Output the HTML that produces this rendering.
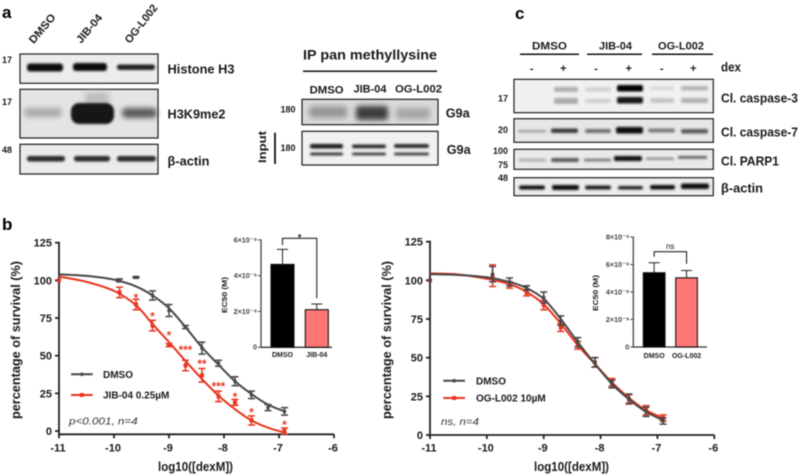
<!DOCTYPE html>
<html lang="en">
<head>
<meta charset="utf-8">
<title>Western blots and dose-response curves</title>
<style>
html,body{margin:0;padding:0;background:#fff;width:800px;height:476px;overflow:hidden}
svg{display:block;position:absolute;left:0;top:0;filter:blur(.45px)}
text{font-family:"Liberation Sans","DejaVu Sans",sans-serif;font-weight:bold;fill:#1a1a1a}
.box{stroke:#1c1c1c;stroke-width:1.2}
.lbl{font-size:13px}
.mw{font-size:9px}
.pl{font-size:17px;fill:#000}
.hd{font-size:11px}
.axis{stroke:#222;stroke-width:1.8;fill:none}
</style>
</head>
<body>
<svg id="figure" width="800" height="476" viewBox="0 0 800 476" xmlns="http://www.w3.org/2000/svg">
<defs>
<filter id="b1" x="-20%" y="-60%" width="140%" height="220%"><feGaussianBlur stdDeviation="1"/></filter>
<filter id="b2" x="-20%" y="-60%" width="140%" height="220%"><feGaussianBlur stdDeviation="2.6"/></filter>
</defs>

<!-- Panel a -->
<g>
<text class="pl" x="2" y="18">a</text>
<text class="hd" transform="translate(45,31) rotate(-50)" text-anchor="middle" textLength="35" lengthAdjust="spacingAndGlyphs">DMSO</text>
<text class="hd" transform="translate(92,31) rotate(-50)" text-anchor="middle" textLength="34" lengthAdjust="spacingAndGlyphs">JIB-04</text>
<text class="hd" transform="translate(144,26) rotate(-52)" text-anchor="middle" textLength="46" lengthAdjust="spacingAndGlyphs">OG-L002</text>

<text class="mw" x="2" y="63">17</text>
<text class="mw" x="2" y="105">17</text>
<text class="mw" x="2" y="153">48</text>

<g>
<rect class="box" x="20" y="54" width="138" height="29.3" fill="#ececec"/>
<g filter="url(#b1)">
<rect x="27" y="63.5" width="36" height="8" rx="3" fill="#0a0a0a"/>
<rect x="73" y="63" width="34" height="8" rx="3" fill="#0a0a0a"/>
<rect x="117" y="64.5" width="38" height="5.5" rx="2.5" fill="#222"/>
</g>
</g>
<g>
<rect class="box" x="20" y="89.3" width="138" height="48.7" fill="#e4e4e4"/>
<g filter="url(#b2)">
<rect x="24" y="108" width="38" height="9" rx="4" fill="#a9a9a9"/>
<rect x="85" y="92" width="24" height="12" fill="#bdbdbd"/>
<rect x="122" y="108" width="35" height="10" rx="4" fill="#5a5a5a"/>
</g>
<rect x="71" y="103" width="43" height="21" rx="8" fill="#141414" filter="url(#b1)"/>
</g>
<g>
<rect class="box" x="20" y="144.3" width="138" height="29.7" fill="#ebebeb"/>
<g filter="url(#b1)">
<rect x="27" y="156" width="38" height="5.5" rx="2.5" fill="#2a2a2a"/>
<rect x="74" y="156" width="36" height="5.5" rx="2.5" fill="#2a2a2a"/>
<rect x="117" y="156" width="39" height="5.5" rx="2.5" fill="#2a2a2a"/>
</g>
</g>
<text class="lbl" x="167.5" y="73.3" textLength="67" lengthAdjust="spacingAndGlyphs">Histone H3</text>
<text class="lbl" x="167.5" y="118.7" textLength="58" lengthAdjust="spacingAndGlyphs">H3K9me2</text>
<text class="lbl" x="167.5" y="165.7" textLength="42" lengthAdjust="spacingAndGlyphs">β-actin</text>
</g>

<!-- IP panel -->
<g>
<text x="303" y="59.3" font-size="14" textLength="134" lengthAdjust="spacingAndGlyphs">IP pan methyllysine</text>
<line x1="303" y1="71.3" x2="437" y2="71.3" stroke="#111" stroke-width="1.5"/>
<text class="hd" x="326.6" y="93.3" text-anchor="middle" textLength="34" lengthAdjust="spacingAndGlyphs">DMSO</text>
<text class="hd" x="370" y="92.5" text-anchor="middle" textLength="33" lengthAdjust="spacingAndGlyphs">JIB-04</text>
<text class="hd" x="418.5" y="92.5" text-anchor="middle" textLength="47" lengthAdjust="spacingAndGlyphs">OG-L002</text>
<text class="mw" x="280.5" y="112.7">180</text>
<text class="mw" x="280.5" y="151">180</text>
<g>
<rect class="box" x="302" y="99.3" width="136" height="25.4" fill="#d9d9d9"/>
<g filter="url(#b2)">
<rect x="309" y="106" width="38" height="12" rx="3" fill="#989898"/>
<rect x="356" y="106" width="32" height="14" rx="3" fill="#3d3d3d"/>
<rect x="396" y="108" width="34" height="11" rx="3" fill="#a6a6a6"/>
</g>
</g>
<g>
<rect class="box" x="302" y="131.3" width="136" height="33.7" fill="#f1f1f1"/>
<g filter="url(#b1)">
<rect x="310" y="144" width="33" height="4.5" rx="2" fill="#1e1e1e"/>
<rect x="352" y="144.5" width="34" height="3.8" rx="2" fill="#2a2a2a"/>
<rect x="394" y="144" width="35" height="4" rx="2" fill="#2a2a2a"/>
<rect x="310" y="152.5" width="33" height="3" rx="1.5" fill="#3a3a3a"/>
<rect x="352" y="152.5" width="34" height="3" rx="1.5" fill="#444"/>
<rect x="394" y="152.5" width="35" height="3" rx="1.5" fill="#444"/>
</g>
</g>
<text class="lbl" x="445.7" y="117.7" textLength="24" lengthAdjust="spacingAndGlyphs">G9a</text>
<text class="lbl" x="446.7" y="154" textLength="24" lengthAdjust="spacingAndGlyphs">G9a</text>
<line x1="275" y1="132.7" x2="275" y2="164" stroke="#111" stroke-width="1.8"/>
<text font-size="11" transform="translate(266,147) rotate(-90)" text-anchor="middle" textLength="32" lengthAdjust="spacingAndGlyphs">Input</text>
</g>

<!-- Panel c -->
<g>
<text class="pl" x="515" y="19">c</text>
<text class="hd" x="549.5" y="49.3" text-anchor="middle" textLength="35" lengthAdjust="spacingAndGlyphs">DMSO</text>
<text class="hd" x="615.5" y="49.3" text-anchor="middle" textLength="33" lengthAdjust="spacingAndGlyphs">JIB-04</text>
<text class="hd" x="681" y="49.3" text-anchor="middle" textLength="46" lengthAdjust="spacingAndGlyphs">OG-L002</text>
<line x1="520" y1="54.3" x2="579" y2="54.3" stroke="#111" stroke-width="1.5"/>
<line x1="587" y1="54.3" x2="642" y2="54.3" stroke="#111" stroke-width="1.5"/>
<line x1="652" y1="54.3" x2="713" y2="54.3" stroke="#111" stroke-width="1.5"/>
<text font-size="11" x="531.7" y="72" text-anchor="middle">-</text>
<text font-size="11" x="563.3" y="72" text-anchor="middle">+</text>
<text font-size="11" x="596" y="72" text-anchor="middle">-</text>
<text font-size="11" x="628.7" y="72" text-anchor="middle">+</text>
<text font-size="11" x="661.7" y="72" text-anchor="middle">-</text>
<text font-size="11" x="693.3" y="72" text-anchor="middle">+</text>
<text class="lbl" x="721" y="71.7" textLength="20" lengthAdjust="spacingAndGlyphs">dex</text>

<text class="mw" x="508" y="101.5" text-anchor="end">17</text>
<text class="mw" x="508" y="133.2" text-anchor="end">20</text>
<text class="mw" x="508" y="153.9" text-anchor="end">100</text>
<text class="mw" x="508" y="168.2" text-anchor="end">75</text>
<text class="mw" x="508" y="181.2" text-anchor="end">48</text>

<g>
<rect class="box" x="514" y="79.3" width="199.3" height="33.4" fill="#f0f0f0"/>
<g filter="url(#b1)">
<rect x="554" y="87" width="24" height="5" rx="2" fill="#b0b0b0"/>
<rect x="554" y="98" width="24" height="6" rx="2" fill="#aaa"/>
<rect x="585" y="87.5" width="26" height="4" rx="2" fill="#cfcfcf"/>
<rect x="585" y="99" width="26" height="4" rx="2" fill="#cfcfcf"/>
<rect x="617" y="85" width="26" height="6.5" rx="2" fill="#050505"/>
<rect x="617" y="97" width="26" height="6.5" rx="2" fill="#151515"/>
<rect x="650" y="86.5" width="24" height="3.5" rx="2" fill="#d8d8d8"/>
<rect x="650" y="98" width="24" height="5" rx="2" fill="#c6c6c6"/>
<rect x="681" y="86" width="27" height="4.5" rx="2" fill="#b5b5b5"/>
<rect x="681" y="98" width="27" height="5" rx="2" fill="#b0b0b0"/>
</g>
</g>
<g>
<rect class="box" x="514" y="118.7" width="199.3" height="23.6" fill="#e6e6e6"/>
<g filter="url(#b1)">
<rect x="518" y="130" width="28" height="2.5" rx="1" fill="#a0a0a0"/>
<rect x="551" y="128.5" width="27" height="4.5" rx="2" fill="#3a3a3a"/>
<rect x="585" y="129" width="26" height="4" rx="2" fill="#707070"/>
<rect x="616" y="127" width="27" height="6.5" rx="2" fill="#080808"/>
<rect x="648" y="128.5" width="27" height="4" rx="2" fill="#7a7a7a"/>
<rect x="681" y="129" width="27" height="4.5" rx="2" fill="#5c5c5c"/>
</g>
</g>
<g>
<rect class="box" x="514" y="149.3" width="199.3" height="20" fill="#e9e9e9"/>
<g filter="url(#b1)">
<rect x="519" y="158.5" width="27" height="3" rx="1" fill="#b0b0b0"/>
<rect x="551" y="158" width="28" height="4" rx="2" fill="#5a5a5a"/>
<rect x="584" y="158.5" width="27" height="3" rx="1" fill="#808080"/>
<rect x="614" y="156" width="28" height="5" rx="2" fill="#0f0f0f"/>
<rect x="646" y="157.5" width="28" height="2.5" rx="1" fill="#909090"/>
<rect x="678" y="156" width="29" height="2.8" rx="1" fill="#606060"/>
</g>
</g>
<g>
<rect class="box" x="514" y="177.7" width="199.3" height="18" fill="#ececec"/>
<g filter="url(#b1)">
<rect x="519" y="185.5" width="26" height="4" rx="2" fill="#111"/>
<rect x="552" y="185" width="27" height="5" rx="2" fill="#0c0c0c"/>
<rect x="585" y="185.5" width="26" height="4" rx="2" fill="#1c1c1c"/>
<rect x="618" y="186" width="25" height="3.5" rx="2" fill="#222"/>
<rect x="650" y="185" width="25" height="4.5" rx="2" fill="#111"/>
<rect x="681" y="183.5" width="28" height="5.5" rx="2" fill="#080808"/>
</g>
</g>
<text class="lbl" x="721" y="102.3" textLength="77" lengthAdjust="spacingAndGlyphs">Cl. caspase-3</text>
<text class="lbl" x="721" y="136.7" textLength="77" lengthAdjust="spacingAndGlyphs">Cl. caspase-7</text>
<text class="lbl" x="721" y="165.7" textLength="58" lengthAdjust="spacingAndGlyphs">Cl. PARP1</text>
<text class="lbl" x="721" y="192.7" textLength="42" lengthAdjust="spacingAndGlyphs">β-actin</text>
</g>

<text class="pl" x="2" y="230">b</text>
<g id="chart-left"></g>
<g id="chart-right"></g>
<g id="inset-left"></g>
<g id="inset-right"></g>
</svg>

<script>
// ---- Shared axis ticks ----
const xTickValues = [-11, -10, -9, -8, -7, -6];
const yTickValues = [0, 25, 50, 75, 100, 125];

// ---- Left chart data ----
const leftPointDoses = [-11, -9.9, -9.6, -9.3, -9, -8.7, -8.4, -8.1, -7.8, -7.5, -7.2, -6.9];
const leftDmsoValues = [100, 100, 102, 90, 80, 69, 55, 45, 33, 24, 15.5, 13];
const leftDmsoErrors = [0, 1, 0.5, 3, 4, 1, 4, 2, 3, 2.5, 2, 2.5];
const leftJibDoses = [-11, -9.9, -9.6, -9.3, -9, -8.7, -8.4, -8.1, -7.8, -7.5, -6.9];
const leftJibValues = [100, 92, 84, 70, 57, 43.5, 37, 23, 19, 7, 0];
const leftJibErrors = [0, 3.5, 3.5, 3.5, 1, 3.5, 4.5, 3.5, 2, 3, 2];
const leftFitDoses = [-11, -10.5, -10, -9.6, -9.3, -9, -8.7, -8.4, -8.1, -7.8, -7.5, -7.2, -6.9];
const leftDmsoFit = [104, 103, 100.5, 96, 90, 81.5, 69, 55.5, 44, 33, 24.5, 17.5, 13];
const leftJibFit = [102.5, 99, 93, 83.5, 71, 59, 46.5, 34.5, 23.5, 14.5, 7, 2.2, -1];
const leftStarDoses = [-9.6, -9.3, -9, -8.7, -8.4, -8.1, -7.8, -7.5, -6.9];
const leftStarLabels = ['*', '*', '*', '***', '**', '***', '*', '*', '*'];
const leftStarHeights = [90, 77.5, 65, 55.5, 46, 31, 24, 14, 5.6];

// ---- Right chart data ----
const rightPointDoses = [-11, -9.9, -9.6, -9.3, -9, -8.7, -8.4, -8.1, -7.8, -7.5, -7.2, -6.9];
const rightDmsoValues = [100, 104, 99, 95, 89, 74, 60, 47, 33, 23.5, 15, 9];
const rightDmsoErrors = [0, 5, 2.5, 1.5, 3.5, 3, 3, 3, 2.5, 3, 3, 2];
const rightOgValues = [100, 103, 97, 92, 84, 69.5, 58, 47, 34, 23, 16, 11];
const rightOgErrors = [0, 7, 2, 2, 3, 2.5, 2.5, 3, 2.5, 3, 3, 2];
const rightFitDoses = [-11, -10.5, -10, -9.6, -9.3, -9, -8.7, -8.4, -8.1, -7.8, -7.5, -7.2, -6.9];
const rightDmsoFit = [104, 103.5, 102, 99, 95, 88, 75, 60, 46, 33, 23, 15, 9.5];
const rightOgFit = [104.5, 103.8, 101, 97.5, 92.5, 84.5, 72, 58, 46, 34, 24, 16, 11];

// ---- Inset data ----
const leftInsetCategories = ['DMSO', 'JIB-04'];
const leftInsetValues = [4.63e-9, 2.1e-9];
const leftInsetErrors = [0.84e-9, 0.32e-9];
const leftInsetTicks = [0, 2e-9, 4e-9, 6e-9];
const leftInsetTickLabels = ['0', '2×10⁻⁹', '4×10⁻⁹', '6×10⁻⁹'];
const rightInsetCategories = ['DMSO', 'OG-L002'];
const rightInsetValues = [5.4e-9, 5.03e-9];
const rightInsetErrors = [0.73e-9, 0.53e-9];
const rightInsetTicks = [0, 2e-9, 4e-9, 6e-9, 8e-9];
const rightInsetTickLabels = ['0', '2×10⁻⁹', '4×10⁻⁹', '6×10⁻⁹', '8×10⁻⁹'];

const NS = 'http://www.w3.org/2000/svg';
function mk(parent, tag, attrs, txt) {
  const e = document.createElementNS(NS, tag);
  for (const k in attrs) e.setAttribute(k, attrs[k]);
  if (txt !== undefined) e.textContent = txt;
  parent.appendChild(e);
  return e;
}
function smoothPath(pts) {
  let d = 'M' + pts[0][0].toFixed(2) + ' ' + pts[0][1].toFixed(2);
  for (let i = 0; i < pts.length - 1; i++) {
    const p0 = pts[Math.max(i - 1, 0)], p1 = pts[i], p2 = pts[i + 1], p3 = pts[Math.min(i + 2, pts.length - 1)];
    d += ' C' + (p1[0] + (p2[0] - p0[0]) / 6).toFixed(2) + ' ' + (p1[1] + (p2[1] - p0[1]) / 6).toFixed(2) +
      ' ' + (p2[0] - (p3[0] - p1[0]) / 6).toFixed(2) + ' ' + (p2[1] - (p3[1] - p1[1]) / 6).toFixed(2) +
      ' ' + p2[0].toFixed(2) + ' ' + p2[1].toFixed(2);
  }
  return d;
}

function drawAxes(g, o) {
  const yAxis = mk(g, 'line', {x1: o.sx(-11), x2: o.sx(-11), y1: o.sy(125) - 1, y2: o.axisY, class: 'axis'});
  
  
  const xAxis = mk(g, 'line', {x1: o.sx(-11) - 1, x2: o.sx(-6), y1: o.axisY, y2: o.axisY, class: 'axis'});
  
  
  yTickValues.forEach(function (v) {
    const t = mk(g, 'line', {x1: o.sx(-11) - 4, x2: o.sx(-11), y1: o.sy(v), y2: o.sy(v), class: 'axis'});
    
    
    const l = mk(g, 'text', {x: o.sx(-11) - 7, y: o.sy(v) + 4, 'text-anchor': 'end', 'font-size': 11}, String(v));
    
    
  });
  xTickValues.forEach(function (v) {
    const t = mk(g, 'line', {x1: o.sx(v), x2: o.sx(v), y1: o.axisY, y2: o.axisY + 4, class: 'axis'});
    
    
    const l = mk(g, 'text', {x: o.sx(v) - 1, y: 451.5, 'text-anchor': 'middle', 'font-size': 11}, String(v));
    
    
  });
  const xt = mk(g, 'text', {x: o.xTitleX, y: 471, 'text-anchor': 'middle', 'font-size': 12.5, textLength: 75, lengthAdjust: 'spacingAndGlyphs'}, 'log10([dexM])');
  
  
  const yt = mk(g, 'text', {transform: 'translate(' + o.yTitleX + ',340) rotate(-90)', 'text-anchor': 'middle', 'font-size': 13, textLength: 158, lengthAdjust: 'spacingAndGlyphs'}, 'percentage of survival (%)');
  
  
}

function drawSeries(g, o, doses, values, errors, fitDoses, fit, color, square) {
  const pts = fitDoses.map(function (d, i) { return [o.sx(d), o.sy(fit[i])]; });
  const curve = mk(g, 'path', {d: smoothPath(pts), fill: 'none', stroke: color, 'stroke-width': 2});
  
  
  doses.forEach(function (d, i) {
    const x = o.sx(d), y = o.sy(values[i]), hi = o.sy(values[i] + errors[i]), lo = o.sy(values[i] - errors[i]);
    if (errors[i] > 0) {
      const er = mk(g, 'path', {d: 'M' + (x - 3.5) + ' ' + hi + 'H' + (x + 3.5) + 'M' + x + ' ' + hi + 'V' + lo + 'M' + (x - 3.5) + ' ' + lo + 'H' + (x + 3.5), fill: 'none', stroke: color, 'stroke-width': 1.5});
      
      
    }
    const m = square
      ? mk(g, 'rect', {x: x - 2, y: y - 2, width: 4, height: 4, fill: color})
      : mk(g, 'circle', {cx: x, cy: y, r: 1.8, fill: color});
    
    
  });
}

function drawLegendRow(g, x1, x2, y, textX, label, color, square) {
  const ln = mk(g, 'line', {x1: x1, x2: x2, y1: y, y2: y, stroke: color, 'stroke-width': 2});
  
  
  const cx = (x1 + x2) / 2;
  const mark = square
    ? mk(g, 'rect', {x: cx - 2, y: y - 2, width: 4, height: 4, fill: color})
    : mk(g, 'circle', {cx: cx, cy: y, r: 1.8, fill: color});
  
  
  const t = mk(g, 'text', {x: textX, y: y + 3.7, 'font-size': 10}, label);
  
  
}

function drawInset(g, o, cats, values, errors, ticks, tickLabels) {
  const axisX = o.axisX;
  const sy = function (v) { return o.y0 - v * o.pxPerUnit; };
  const ax = mk(g, 'line', {x1: axisX, x2: axisX, y1: sy(ticks[ticks.length - 1]) - 0.5, y2: o.y0 + 0.5, stroke: '#444', 'stroke-width': 1.3});
  
  
  const bx = mk(g, 'line', {x1: axisX - 0.5, x2: o.xEnd, y1: o.y0, y2: o.y0, stroke: '#333', 'stroke-width': 1.3});
  
  
  ticks.forEach(function (v, i) {
    const t = mk(g, 'line', {x1: axisX - 3, x2: axisX, y1: sy(v), y2: sy(v), stroke: '#444', 'stroke-width': 1});
    
    
    const l = mk(g, 'text', {x: axisX - 4, y: sy(v) + 2.4, 'text-anchor': 'end', 'font-size': 7.2}, tickLabels[i]);
    l.style.fill = '#444';
    
    
  });
  const colors = ['#000000', '#ff7676'];
  cats.forEach(function (c, i) {
    const x = o.barX[i], cx = x + o.barW / 2, top = sy(values[i]), et = sy(values[i] + errors[i]);
    const er = mk(g, 'path', {d: 'M' + (cx - 5.5) + ' ' + et + 'H' + (cx + 5.5) + 'M' + cx + ' ' + et + 'V' + top, fill: 'none', stroke: '#222', 'stroke-width': 1});
    
    
    const b = mk(g, 'rect', {x: x, y: top, width: o.barW, height: o.y0 - top, fill: colors[i], stroke: '#111', 'stroke-width': 1.1});
    
    
    const l = mk(g, 'text', {x: cx, y: o.labelY, 'text-anchor': 'middle', 'font-size': 7}, c);
    
    
  });
  const yt = mk(g, 'text', {transform: 'translate(' + o.titleX + ',' + o.titleY + ') rotate(-90)', 'text-anchor': 'middle', 'font-size': 7.5, textLength: 36, lengthAdjust: 'spacingAndGlyphs'}, 'EC50 (M)');
  
  
  const cxA = o.barX[0] + o.barW / 2, cxB = o.barX[1] + o.barW / 2;
  const br = mk(g, 'path', {d: 'M' + cxA + ' ' + o.brLeft + 'V' + o.brTop + 'H' + cxB + 'V' + o.brRight, fill: 'none', stroke: '#222', 'stroke-width': 1.1});
  
  
  const s = mk(g, 'text', {x: (cxA + cxB) / 2, y: o.sigY, 'text-anchor': 'middle', 'font-size': o.sigSize}, o.sig);
  s.style.fontWeight = o.sig === 'ns' ? 'normal' : 'bold';
  
  
}

// ---- Left chart ----
const leftScale = {
  sx: function (d) { return 59 + (d + 11) * 55; },
  sy: function (v) { return 431 - v * 1.5064; },
  axisY: 434.3, xTitleX: 195.5, yTitleX: 20
};
const leftG = document.getElementById('chart-left');
drawAxes(leftG, leftScale);
drawSeries(leftG, leftScale, leftPointDoses, leftDmsoValues, leftDmsoErrors, leftFitDoses, leftDmsoFit, '#484848', false);
drawSeries(leftG, leftScale, leftJibDoses, leftJibValues, leftJibErrors, leftFitDoses, leftJibFit, '#e8351e', true);
leftStarDoses.forEach(function (d, i) {
  const s = mk(leftG, 'text', {x: leftScale.sx(d), y: leftScale.sy(leftStarHeights[i]) + 6.4, 'text-anchor': 'middle', 'font-size': 11.5}, leftStarLabels[i]);
  s.style.fill = '#e8351e';
  
  
});
drawLegendRow(leftG, 71, 92.7, 374.3, 103, 'DMSO', '#484848', false);
drawLegendRow(leftG, 71, 92.7, 395, 103, 'JIB-04 0.25µM', '#e8351e', true);
const leftNote = mk(leftG, 'text', {x: 69, y: 424.3, 'font-size': 10.5, 'font-style': 'italic', textLength: 68.7, lengthAdjust: 'spacingAndGlyphs'}, 'p<0.001, n=4');
leftNote.style.fontWeight = 'normal';
leftNote.style.fill = '#333';



// ---- Right chart ----
const rightScale = {
  sx: function (d) { return 430 + (d + 11) * 56.86; },
  sy: function (v) { return 435 - v * 1.5464; },
  axisY: 435, xTitleX: 571.5, yTitleX: 391
};
const rightG = document.getElementById('chart-right');
drawAxes(rightG, rightScale);
drawSeries(rightG, rightScale, rightPointDoses, rightOgValues, rightOgErrors, rightFitDoses, rightOgFit, '#e8351e', true);
drawSeries(rightG, rightScale, rightPointDoses, rightDmsoValues, rightDmsoErrors, rightFitDoses, rightDmsoFit, '#484848', false);
drawLegendRow(rightG, 443.3, 465, 380.7, 476, 'DMSO', '#484848', false);
drawLegendRow(rightG, 443.3, 465, 398, 476, 'OG-L002 10µM', '#e8351e', true);
const rightNote = mk(rightG, 'text', {x: 441, y: 425, 'font-size': 10.5, 'font-style': 'italic', textLength: 38, lengthAdjust: 'spacingAndGlyphs'}, 'ns, n=4');
rightNote.style.fontWeight = 'normal';
rightNote.style.fill = '#333';



// ---- Insets ----
drawInset(document.getElementById('inset-left'), {
  axisX: 261, y0: 347.3, pxPerUnit: 17.9e9, xEnd: 332, barX: [271, 305.3], barW: 23, labelY: 357,
  titleX: 227, titleY: 295, brLeft: 245, brTop: 238.3, brRight: 298, sig: '*', sigY: 240.5, sigSize: 9
}, leftInsetCategories, leftInsetValues, leftInsetErrors, leftInsetTicks, leftInsetTickLabels);
drawInset(document.getElementById('inset-right'), {
  axisX: 633.3, y0: 347, pxPerUnit: 13.75e9, xEnd: 707, barX: [643.3, 675.7], barW: 21.7, labelY: 358,
  titleX: 598, titleY: 293, brLeft: 256.7, brTop: 251.7, brRight: 263.7, sig: 'ns', sigY: 249, sigSize: 8
}, rightInsetCategories, rightInsetValues, rightInsetErrors, rightInsetTicks, rightInsetTickLabels);
</script>
</body>
</html>
